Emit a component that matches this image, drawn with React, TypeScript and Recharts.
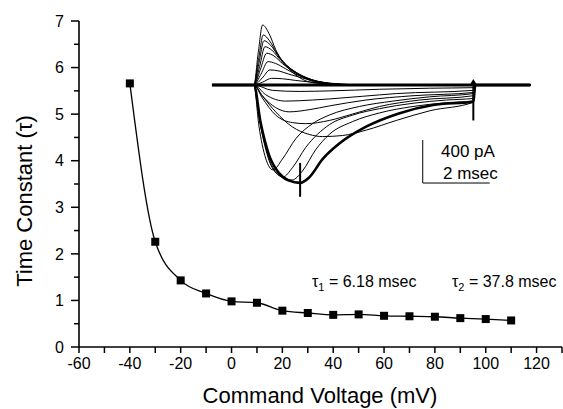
import React from "react";
import { LineChart, Line, XAxis, YAxis, ReferenceLine } from "recharts";

// ---- main data ----
const voltages = [-40, -30, -20, -10, 0, 10, 20, 30, 40, 50, 60, 70, 80, 90, 100, 110];
const tauValues = [5.66, 2.26, 1.43, 1.15, 0.98, 0.95, 0.78, 0.73, 0.69, 0.7, 0.67, 0.66, 0.65, 0.62, 0.6, 0.57];
const xTicks = [-60, -50, -40, -30, -20, -10, 0, 10, 20, 30, 40, 50, 60, 70, 80, 90, 100, 110, 120, 130];
const yTicks = [0, 0.5, 1, 1.5, 2, 2.5, 3, 3.5, 4, 4.5, 5, 5.5, 6, 6.5, 7];

// ---- inset current traces: [time (ms), current (pA)] ----
const baselineTrace: [number, number][] = [[0, 0], [7.74, 0], [7.8, 30], [7.86, 0], [9.5, 0]];
const outwardTraces: [number, number][][] = [
  [[0, 0], [1.25, 0], [1.38, 300], [1.51, 558], [1.7, 480], [1.9, 330], [2.1, 220], [2.33, 140], [2.83, 35], [3.3, 10], [3.8, 0], [9.5, 0]],
  [[0, 0], [1.25, 0], [1.39, 240], [1.53, 465], [1.72, 410], [1.95, 290], [2.2, 190], [2.5, 110], [2.9, 45], [3.4, 12], [3.9, 0], [9.5, 0]],
  [[0, 0], [1.25, 0], [1.4, 200], [1.55, 412], [1.75, 370], [2.0, 260], [2.3, 165], [2.6, 100], [3.0, 40], [3.5, 10], [4.0, 0], [9.5, 0]],
  [[0, 0], [1.25, 0], [1.42, 170], [1.58, 356], [1.8, 320], [2.05, 230], [2.35, 150], [2.7, 85], [3.1, 35], [3.6, 8], [4.1, 0], [9.5, 0]],
  [[0, 0], [1.25, 0], [1.44, 140], [1.63, 295], [1.85, 270], [2.1, 200], [2.4, 130], [2.8, 70], [3.2, 30], [3.7, 8], [4.2, 0], [9.5, 0]],
  [[0, 0], [1.25, 0], [1.46, 100], [1.67, 217], [1.9, 200], [2.2, 150], [2.5, 100], [2.9, 55], [3.4, 20], [4.0, 5], [4.5, 0], [9.5, 0]],
  [[0, 0], [1.25, 0], [1.5, 65], [1.73, 140], [2.0, 130], [2.3, 100], [2.7, 65], [3.2, 30], [3.8, 10], [4.5, 0], [9.5, 0]],
  [[0, 0], [1.25, 0], [1.5, 25], [1.78, 62], [2.1, 58], [2.5, 42], [3.0, 25], [3.6, 10], [4.3, 0], [9.5, 0]],
];
const inwardTraces: [number, number][][] = [
  [[0, 0], [1.25, 0], [1.45, -380], [1.7, -700], [1.95, -830], [2.12, -855], [2.4, -770], [2.8, -580], [3.5, -370], [4.2, -280], [5.0, -220], [6.0, -170], [7.0, -140], [7.8, -125], [7.86, 0], [9.5, 0]],
  [[0, 0], [1.25, 0], [1.45, -360], [1.7, -680], [2.0, -840], [2.39, -884], [2.7, -800], [3.1, -600], [3.5, -460], [4.2, -340], [5.0, -260], [6.0, -200], [7.0, -165], [7.8, -150], [7.86, 0], [9.5, 0]],
  [[0, 0], [1.25, 0], [1.4, -380], [1.6, -680], [1.82, -790], [2.1, -690], [2.5, -500], [3.0, -360], [3.5, -280], [4.4, -200], [5.4, -150], [6.5, -110], [7.8, -80], [7.86, 0], [9.5, 0]],
  [[0, 0], [1.25, 0], [1.5, -100], [1.9, -250], [2.4, -390], [2.9, -460], [3.3, -480], [3.9, -470], [4.6, -420], [5.5, -330], [6.5, -240], [7.8, -160], [7.86, 0], [9.5, 0]],
  [[0, 0], [1.25, 0], [1.5, -120], [1.9, -280], [2.4, -350], [2.8, -360], [3.5, -330], [4.2, -270], [5.0, -200], [6.2, -140], [7.8, -100], [7.86, 0], [9.5, 0]],
  [[0, 0], [1.25, 0], [1.5, -100], [1.9, -210], [2.3, -250], [2.9, -230], [3.5, -195], [4.6, -140], [6.0, -100], [7.8, -70], [7.86, 0], [9.5, 0]],
  [[0, 0], [1.25, 0], [1.6, -90], [2.2, -150], [3.0, -140], [3.5, -130], [4.5, -105], [5.5, -80], [7.8, -50], [7.86, 0], [9.5, 0]],
  [[0, 0], [1.25, 0], [1.8, -50], [2.6, -60], [3.5, -55], [5.0, -40], [6.5, -30], [7.8, -25], [7.86, 0], [9.5, 0]],
];
const thickTrace: [number, number][] = [[0, 0], [1.25, 0], [1.45, -350], [1.7, -650], [2.0, -820], [2.3, -890], [2.63, -911], [2.9, -860], [3.3, -690], [3.82, -540], [4.6, -388], [5.6, -262], [6.6, -186], [7.8, -155], [7.86, 0], [9.5, 0]];
const scaleBarTime = [6.29, 8.29]; // 2 msec
const scaleBarCurrent = [-512, -912]; // 400 pA

const FONT = "'Liberation Sans', Arial, Helvetica, sans-serif";

const mainData = voltages.map((v, i) => ({ v, tau: tauValues[i] }));
const toRows = (tr: [number, number][]) => tr.map(([t, i]) => ({ t, i }));

const SquareDot = (props: any) => {
  const { cx, cy } = props;
  if (cx == null || cy == null) return null;
  return <rect x={cx - 4} y={cy - 4} width={8} height={8} fill="#000" />;
};

const YTick = (props: any) => {
  const { x, y, payload } = props;
  const v = payload.value;
  const major = Number.isInteger(v);
  const axisX = x + 12;
  return (
    <g>
      <line x1={axisX - (major ? 8 : 5)} x2={axisX} y1={y} y2={y} stroke="#000" strokeWidth={1.5} />
      {major && (
        <text x={axisX - 15} y={y} dy="0.36em" textAnchor="end" fontSize={16} fontFamily={FONT} fill="#000">
          {v}
        </text>
      )}
    </g>
  );
};

const XTick = (props: any) => {
  const { x, y, payload } = props;
  const v = payload.value;
  const axisY = y - 10;
  const labeled = v % 20 === 0 && v <= 120;
  return (
    <g>
      <line x1={x} x2={x} y1={axisY} y2={axisY + 6} stroke="#000" strokeWidth={1.5} />
      {labeled && (
        <text x={x} y={axisY + 21.5} textAnchor="middle" fontSize={16} fontFamily={FONT} fill="#000">
          {v}
        </text>
      )}
    </g>
  );
};

export default function App() {
  return (
    <div style={{ position: "absolute", left: 0, top: 0, width: 563, height: 409, background: "#fff", fontFamily: FONT }}>
      <LineChart width={563} height={409} data={mainData} margin={{ top: 21, right: 1, bottom: 22, left: 19 }}>
        <XAxis
          dataKey="v"
          type="number"
          domain={[-60, 130]}
          ticks={xTicks}
          interval={0}
          tickLine={false}
          tickSize={5}
          tickMargin={5}
          height={40}
          axisLine={{ stroke: "#000", strokeWidth: 1.6 }}
          tick={<XTick />}
        />
        <YAxis
          type="number"
          domain={[0, 7]}
          ticks={yTicks}
          interval={0}
          tickLine={false}
          tickSize={8}
          tickMargin={4}
          width={60}
          axisLine={{ stroke: "#000", strokeWidth: 1.6 }}
          tick={<YTick />}
        />
        <Line
          dataKey="tau"
          type="monotone"
          stroke="#000"
          strokeWidth={1.3}
          dot={<SquareDot />}
          activeDot={false}
          isAnimationActive={false}
        />
      </LineChart>

      <div style={{ position: "absolute", left: 200, top: 15 }}>
        <LineChart width={340} height={195} margin={{ top: 0, right: 0, bottom: 0, left: 0 }}>
          <XAxis dataKey="t" type="number" domain={[-0.358, 9.79]} hide allowDataOverflow />
          <YAxis type="number" domain={[-1163, 651]} hide allowDataOverflow />
          <Line data={toRows(baselineTrace)} dataKey="i" type="linear" stroke="#000" strokeWidth={3} dot={false} isAnimationActive={false} />
          {outwardTraces.map((tr, k) => (
            <Line key={"o" + k} data={toRows(tr)} dataKey="i" type="monotone" stroke="#000" strokeWidth={1} dot={false} isAnimationActive={false} />
          ))}
          {inwardTraces.map((tr, k) => (
            <Line key={"n" + k} data={toRows(tr)} dataKey="i" type="monotone" stroke="#000" strokeWidth={1} dot={false} isAnimationActive={false} />
          ))}
          <Line data={toRows(thickTrace)} dataKey="i" type="monotone" stroke="#000" strokeWidth={2.6} dot={false} isAnimationActive={false} />
          <ReferenceLine segment={[{ x: 2.63, y: -725 }, { x: 2.63, y: -1040 }]} stroke="#000" strokeWidth={2} />
          <ReferenceLine segment={[{ x: 7.8, y: 30 }, { x: 7.8, y: -330 }]} stroke="#000" strokeWidth={2} />
          <ReferenceLine segment={[{ x: scaleBarTime[0], y: scaleBarCurrent[0] }, { x: scaleBarTime[0], y: scaleBarCurrent[1] }]} stroke="#000" strokeWidth={1} />
          <ReferenceLine segment={[{ x: scaleBarTime[0], y: scaleBarCurrent[1] }, { x: scaleBarTime[1], y: scaleBarCurrent[1] }]} stroke="#000" strokeWidth={1} />
        </LineChart>
      </div>

      <svg width={563} height={409} style={{ position: "absolute", left: 0, top: 0, pointerEvents: "none" }}>
        <text x={441} y={157} fontSize={17} fontFamily={FONT} fill="#000">400 pA</text>
        <text x={443} y={179} fontSize={17} fontFamily={FONT} fill="#000">2 msec</text>
        <text x={312} y={287} fontSize={16} fontFamily={FONT} fill="#000">
          τ<tspan dy={4} fontSize={11}>1</tspan>
          <tspan dy={-4}> = 6.18 msec</tspan>
        </text>
        <text x={452} y={287} fontSize={16} fontFamily={FONT} fill="#000">
          τ<tspan dy={4} fontSize={11}>2</tspan>
          <tspan dy={-4}> = 37.8 msec</tspan>
        </text>
        <text x={320} y={403} textAnchor="middle" fontSize={22} fontFamily={FONT} fill="#000">Command Voltage (mV)</text>
        <text transform="translate(32,201) rotate(-90)" textAnchor="middle" fontSize={22} fontFamily={FONT} fill="#000">Time Constant (τ)</text>
      </svg>
    </div>
  );
}
